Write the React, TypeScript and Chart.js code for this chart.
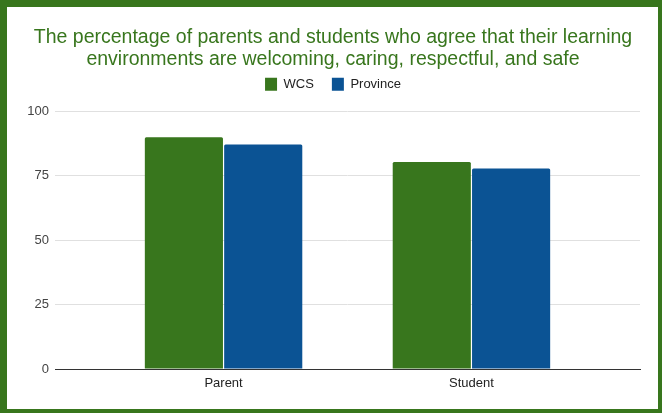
import * as React from 'react';
import { useEffect, useRef } from 'react';
import { Chart, registerables } from 'chart.js';

Chart.register(...registerables);

const CATEGORIES = ['Parent', 'Student'];
const WCS = [90.0, 80.4];
const PROVINCE = [87.2, 77.8];
const Y_TICKS = [0, 25, 50, 75, 100];

const GREEN = '#38761d';
const BLUE = '#0b5394';
const FONT = "'Liberation Sans', Arial, sans-serif";

const App = () => {
  const canvasRef = useRef<HTMLCanvasElement>(null);

  useEffect(() => {
    document.body.style.margin = '0';
    const ctx = canvasRef.current.getContext('2d');
    const chart = new Chart(ctx, {
      type: 'bar',
      data: {
        datasets: [
          {
            label: 'WCS',
            data: CATEGORIES.map((c, i) => ({ x: i + 1, y: WCS[i] })),
            backgroundColor: GREEN,
            borderRadius: 1.5,
            categoryPercentage: 0.64,
            barPercentage: 0.985,
          },
          {
            label: 'Province',
            data: CATEGORIES.map((c, i) => ({ x: i + 1, y: PROVINCE[i] })),
            backgroundColor: BLUE,
            borderRadius: 1.5,
            categoryPercentage: 0.64,
            barPercentage: 0.985,
          },
        ],
      },
      options: {
        animation: false,
        responsive: true,
        maintainAspectRatio: false,
        layout: { padding: { left: 19, right: 18, top: 0, bottom: 0 } },
        plugins: {
          title: {
            display: true,
            text: [
              'The percentage of parents and students who agree that their learning',
              'environments are welcoming, caring, respectful, and safe',
            ],
            color: GREEN,
            font: { family: FONT, size: 19.5, weight: 'normal', lineHeight: 1.15 },
            padding: { top: 19, bottom: -11 },
          },
          legend: {
            position: 'top',
            labels: {
              color: '#222',
              font: { family: FONT, size: 13 },
              boxWidth: 12,
              boxHeight: 13,
              padding: 18,
            },
          },
          tooltip: { enabled: false },
        },
        scales: {
          x: {
            type: 'linear',
            offset: false,
            min: 0.32,
            max: 2.68,
            afterBuildTicks: (scale) => {
              scale.ticks = CATEGORIES.map((c, i) => ({ value: i + 1 }));
            },
            afterFit: (scale) => {
              scale.height = 40;
            },
            ticks: {
              callback: (v) => CATEGORIES[Number(v) - 1],
              color: '#222',
              font: { family: FONT, size: 13 },
              padding: 7,
              maxRotation: 0,
            },
            grid: { display: false, drawTicks: false },
            border: { color: '#333', width: 1 },
          },
          y: {
            min: 0,
            max: 104.1,
            afterBuildTicks: (scale) => {
              scale.ticks = Y_TICKS.map((v) => ({ value: v }));
            },
            afterFit: (scale) => {
              scale.width = 29;
            },
            ticks: {
              color: '#444',
              font: { family: FONT, size: 13 },
              padding: 6,
            },
            grid: { color: '#e0e0e0', drawTicks: false },
            border: { display: false },
          },
        },
      },
    });
    return () => chart.destroy();
  }, []);

  return (
    <div
      style={{
        position: 'fixed',
        top: 0,
        left: 0,
        width: 662,
        height: 413,
        boxSizing: 'border-box',
        borderStyle: 'solid',
        borderColor: GREEN,
        borderWidth: '7px 4px 4px 7px',
        background: '#fff',
      }}
    >
      <div style={{ position: 'relative', width: '100%', height: '100%' }}>
        <canvas ref={canvasRef} />
      </div>
    </div>
  );
};

export default App;
